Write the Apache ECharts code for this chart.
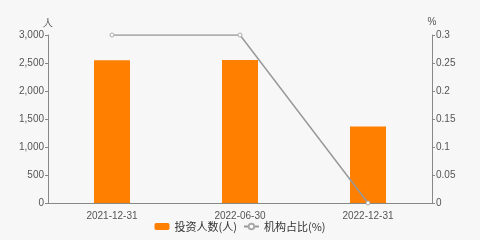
<!DOCTYPE html>
<html><head><meta charset="utf-8">
<script src="https://cdn.jsdelivr.net/npm/echarts@6/dist/echarts.min.js"></script>
<style>html,body{margin:0;padding:0;background:#f7f7f7}#c{width:480px;height:240px}</style>
</head><body><div id="c"></div>
<script>
const categories = ['2021-12-31', '2022-06-30', '2022-12-31'];
const investors = [2550, 2555, 1365];
const instRatio = [0.3, 0.3, 0];
const leftTicks = [0, 500, 1000, 1500, 2000, 2500, 3000];
const rightTicks = [0, 0.05, 0.1, 0.15, 0.2, 0.25, 0.3];

const chart = echarts.init(document.getElementById('c'));
const axisCol = '#888';
const labelCol = '#555';
chart.setOption({
  backgroundColor: '#f7f7f7',
  animation: false,
  grid: { left: 48, right: 48, top: 35, bottom: 37 },
  legend: {
    bottom: 3, left: 'center', itemWidth: 15, itemHeight: 7, itemGap: 6,
    textStyle: { fontSize: 11, color: '#333', fontFamily: 'Noto Sans CJK SC' },
    data: [
      { name: '投资人数(人)', icon: 'roundRect' },
      { name: '机构占比(%)' }
    ]
  },
  xAxis: {
    type: 'category', data: categories,
    axisLine: { lineStyle: { color: axisCol } },
    axisTick: { lineStyle: { color: axisCol } },
    axisLabel: { color: labelCol, fontSize: 10, fontFamily: 'Liberation Sans' }
  },
  yAxis: [
    {
      type: 'value', name: '人', min: 0, max: 3000, interval: 500,
      nameTextStyle: { color: labelCol, fontSize: 10, align: 'center' },
      nameGap: 7,
      axisLine: { show: true, lineStyle: { color: axisCol } },
      axisTick: { show: true, length: 3, lineStyle: { color: axisCol } },
      splitLine: { show: false },
      axisLabel: { color: labelCol, fontSize: 10, margin: 4, fontFamily: 'Liberation Sans',
        formatter: v => v.toLocaleString('en-US') }
    },
    {
      type: 'value', name: '%', min: 0, max: 0.3, interval: 0.05,
      nameTextStyle: { color: labelCol, fontSize: 10, align: 'center' },
      nameGap: 8,
      axisLine: { show: true, lineStyle: { color: axisCol } },
      axisTick: { show: true, length: 3, lineStyle: { color: axisCol } },
      splitLine: { show: false },
      axisLabel: { color: labelCol, fontSize: 10, margin: 4, fontFamily: 'Liberation Sans',
        formatter: v => String(+v.toFixed(2)) }
    }
  ],
  series: [
    {
      name: '投资人数(人)', type: 'bar', data: investors, barWidth: 36,
      itemStyle: { color: '#ff7f00' }
    },
    {
      name: '机构占比(%)', type: 'line', yAxisIndex: 1, data: instRatio,
      symbol: 'circle', symbolSize: 4, showSymbol: true,
      lineStyle: { color: '#999', width: 1.5 },
      itemStyle: { color: '#fff', borderColor: '#aaa', borderWidth: 1 }
    }
  ]
});
</script></body></html>
